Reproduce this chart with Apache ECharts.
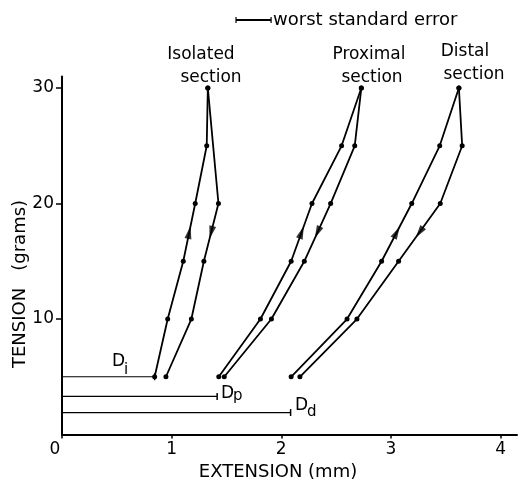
<!DOCTYPE html>
<html>
<head>
<meta charset="utf-8">
<script src="https://cdn.jsdelivr.net/npm/echarts@6/dist/echarts.min.js"></script>
<style>html,body{margin:0;padding:0;background:#fff;}#c{width:519px;height:482px;}</style>
</head>
<body>
<div id="c"></div>
<script>
// ---- data (extension in mm, tension in grams) ----
const xTicks = [0, 1, 2, 3, 4];
const yTicks = [10, 20, 30];
const loadTension = [5, 10, 15, 20, 25, 30];
const isoLoadExt = [0.845, 0.964, 1.106, 1.215, 1.32, 1.33];
const isoUnloadTension = [30, 20, 15, 10, 5];
const isoUnloadExt = [1.33, 1.427, 1.294, 1.18, 0.948];
const proxLoadExt = [1.43, 1.81, 2.09, 2.28, 2.55, 2.73];
const unloadTension = [30, 25, 20, 15, 10, 5];
const proxUnloadExt = [2.73, 2.67, 2.45, 2.21, 1.91, 1.48];
const distLoadExt = [2.09, 2.60, 2.915, 3.19, 3.445, 3.62];
const distUnloadExt = [3.62, 3.65, 3.45, 3.07, 2.69, 2.17];
const dTension = [5, 3.3, 1.9];
const dExt = [0.845, 1.415, 2.085];
const dNames = ['i', 'p', 'd'];
const worstSE = 0.32;
const sectionNames = [['Isolated', 'section'], ['Proximal', 'section'], ['Distal', 'section']];

const FONT = 'DejaVu Sans';
const zip = (xs, ys) => xs.map((x, i) => [x, ys[i]]);

const curves = [
  zip(isoLoadExt, loadTension), zip(isoUnloadExt, isoUnloadTension),
  zip(proxLoadExt, loadTension), zip(proxUnloadExt, unloadTension),
  zip(distLoadExt, loadTension), zip(distUnloadExt, unloadTension)
];

const chart = echarts.init(document.getElementById('c'));

const curveSeries = curves.map(d => ({
  type: 'line', data: d, symbol: 'circle', symbolSize: 5, showSymbol: true,
  lineStyle: { color: '#000', width: 1.8 }, itemStyle: { color: '#000' },
  z: 3, silent: true
}));

const dSeries = dTension.map((t, i) => ({
  type: 'line',
  data: [{ value: [0, t], symbol: 'none' }, { value: [dExt[i], t], symbol: 'rect', symbolSize: [1.5, 7] }],
  lineStyle: { color: '#000', width: 1.2 }, itemStyle: { color: '#000' }, z: 2, silent: true
}));

const option = {
  animation: false,
  backgroundColor: '#fff',
  grid: { left: 62, right: 2, top: 76.5, bottom: 47.5 },
  xAxis: {
    type: 'value', min: 0, max: 4.15, interval: 1,
    axisLine: { lineStyle: { color: '#000', width: 2 } },
    axisTick: { show: true, length: 4, customValues: xTicks, lineStyle: { color: '#000', width: 1.5 } },
    axisLabel: { customValues: xTicks, color: '#000', fontSize: 17, fontFamily: FONT, margin: 7,
      rich: { z: { fontSize: 17, fontFamily: FONT, color: '#000', padding: [0, 14, 0, 0] } },
      formatter: v => (v === 0 ? '{z|0}' : (xTicks.indexOf(v) >= 0 ? String(v) : '')) },
    splitLine: { show: false }
  },
  yAxis: {
    type: 'value', min: 0, max: 31, interval: 10,
    axisLine: { show: true, lineStyle: { color: '#000', width: 2 } },
    axisTick: { show: true, length: 6, customValues: yTicks, lineStyle: { color: '#000', width: 1.5 } },
    axisLabel: { customValues: yTicks, color: '#000', fontSize: 17, fontFamily: FONT, margin: 8,
      formatter: v => (yTicks.indexOf(v) >= 0 ? String(v) : '') },
    splitLine: { show: false }
  },
  series: curveSeries.concat(dSeries)
};
chart.setOption(option);

// arrows at mid of the 15-20 g segment, pointing in the direction of travel
const arrowData = [];
curves.forEach(c => {
  const i15 = c.findIndex(p => p[1] === 15);
  const i20 = c.findIndex(p => p[1] === 20);
  const from = i15 < i20 ? c[i15] : c[i20];
  const to = i15 < i20 ? c[i20] : c[i15];
  const mid = [(from[0] + to[0]) / 2, (from[1] + to[1]) / 2];
  const pa = chart.convertToPixel({ gridIndex: 0 }, from);
  const pb = chart.convertToPixel({ gridIndex: 0 }, to);
  const ang = Math.atan2(-(pb[1] - pa[1]), pb[0] - pa[0]) * 180 / Math.PI;
  arrowData.push({ value: mid, symbolRotate: ang - 90 });
});

const txt = (text, x, y, size, align, extra) => Object.assign({
  type: 'text', x: x, y: y,
  style: { text: text, fontSize: size, fontFamily: FONT, fill: '#000', textAlign: align || 'center', textVerticalAlign: 'middle' }
}, extra || {});

const p0 = chart.convertToPixel({ gridIndex: 0 }, [0, 0]);
const p1 = chart.convertToPixel({ gridIndex: 0 }, [worstSE, 0]);
const L = p1[0] - p0[0];
const ex = 236, ey = 20;

const titlePos = [[201, 211], [369, 372], [465, 474]];
const titleY = [[55, 78], [55, 78], [52, 75]];
const graphics = [
  { type: 'line', shape: { x1: ex, y1: ey, x2: ex + L, y2: ey }, style: { stroke: '#000', lineWidth: 2 } },
  { type: 'line', shape: { x1: ex, y1: ey - 3, x2: ex, y2: ey + 3 }, style: { stroke: '#000', lineWidth: 1.2 } },
  { type: 'line', shape: { x1: ex + L, y1: ey - 3, x2: ex + L, y2: ey + 3 }, style: { stroke: '#000', lineWidth: 1.2 } },
  txt('worst standard error', ex + L + 2, ey, 18, 'left'),
  txt('EXTENSION (mm)', 278, 472, 18, 'center'),
  txt('TENSION   (grams)', 20, 284, 18, 'center', { rotation: Math.PI / 2 })
];
sectionNames.forEach((n, i) => {
  graphics.push(txt(n[0], titlePos[i][0], titleY[i][0], 17, 'center'));
  graphics.push(txt(n[1], titlePos[i][1], titleY[i][1], 17, 'center'));
});
const dLabelPos = [[112, 362, 124, 370], [221, 394, 233, 396], [295, 406, 307, 412]];
dNames.forEach((n, i) => {
  const q = dLabelPos[i];
  graphics.push(txt('D', q[0], q[1], 17, 'left'));
  graphics.push(txt(n, q[2], q[3], 15, 'left'));
});

chart.setOption({
  series: option.series.concat([{
    type: 'scatter', data: arrowData, symbol: 'triangle', symbolSize: [7, 13],
    itemStyle: { color: '#000' }, z: 5, silent: true
  }]),
  graphic: graphics
});
</script>
</body>
</html>
